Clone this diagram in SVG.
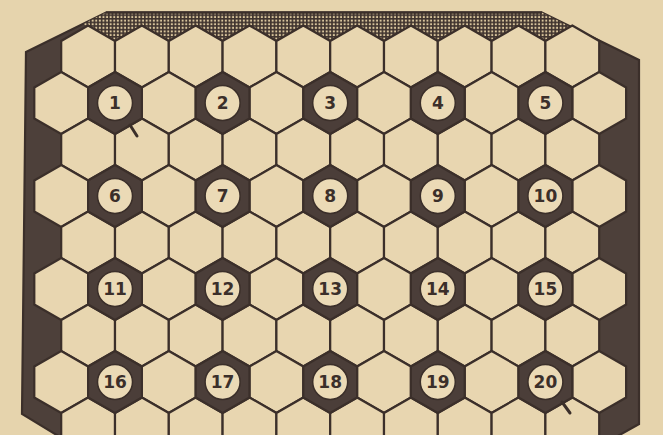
<svg xmlns="http://www.w3.org/2000/svg" xmlns:xlink="http://www.w3.org/1999/xlink" width="663" height="435" viewBox="0 0 663 435">
<style>
.cell{fill:#e8d6b0;stroke:#3b2f2a;stroke-width:2.2}
.dk{fill:#4b3e39;stroke:#3b2f2a;stroke-width:2.2}
.ring{fill:#ebdab6;stroke:#3b2f2a;stroke-width:1.5}
.num{font-family:"DejaVu Sans","Liberation Sans",sans-serif;font-size:17px;font-weight:bold;fill:#3b2f2a;text-anchor:middle}
.tick{stroke:#3b2f2a;stroke-width:3;stroke-linecap:round}
</style>
<defs>
<polygon id="hex" points="0,-31 26.9,-15.5 26.9,15.5 0,31 -26.9,15.5 -26.9,-15.5"/>
<pattern id="hatch" width="3.6" height="3.6" patternUnits="userSpaceOnUse">
<rect width="3.6" height="3.6" fill="#d8c49c"/>
<path d="M0 0.8H3.6M0.8 0V3.6" stroke="#3f332e" stroke-width="1.7"/>
</pattern>
<g id="rowE">
<use xlink:href="#hex" x="88.1" class="cell"/><use xlink:href="#hex" x="141.9" class="cell"/><use xlink:href="#hex" x="195.7" class="cell"/><use xlink:href="#hex" x="249.5" class="cell"/><use xlink:href="#hex" x="303.3" class="cell"/><use xlink:href="#hex" x="357.1" class="cell"/><use xlink:href="#hex" x="410.9" class="cell"/><use xlink:href="#hex" x="464.7" class="cell"/><use xlink:href="#hex" x="518.5" class="cell"/><use xlink:href="#hex" x="572.3" class="cell"/>
</g>
<g id="rowO">
<use xlink:href="#hex" x="61.2" class="cell"/><use xlink:href="#hex" x="168.8" class="cell"/><use xlink:href="#hex" x="276.4" class="cell"/><use xlink:href="#hex" x="384" class="cell"/><use xlink:href="#hex" x="491.6" class="cell"/><use xlink:href="#hex" x="599.2" class="cell"/>
</g>
</defs>
<rect width="663" height="435" fill="#e6d4ad"/>
<g id="board">
<polygon points="26,52 106,12.5 542,12.5 639,60 639,424 616,437 60,437 22,414" fill="#4d403a" stroke="#3b2f2a" stroke-width="2.2"/>
<polygon points="84,23.5 106,12.5 542,12.5 574,28.5 574,45 84,45" fill="url(#hatch)"/>
<line x1="106" y1="12.5" x2="542" y2="12.5" stroke="#3b2f2a" stroke-width="2.5"/>
</g>
<g id="cells">
<use xlink:href="#rowE" y="56.5"/>
<use xlink:href="#rowO" y="103"/>
<use xlink:href="#rowE" y="149.5"/>
<use xlink:href="#rowO" y="196"/>
<use xlink:href="#rowE" y="242.5"/>
<use xlink:href="#rowO" y="289"/>
<use xlink:href="#rowE" y="335.5"/>
<use xlink:href="#rowO" y="382"/>
<use xlink:href="#rowE" y="428.5"/>
</g>
<g id="cell-1"><use xlink:href="#hex" x="115" y="103" class="dk"/><circle cx="115" cy="103" r="17.5" class="ring"/><text x="115" y="109" class="num">1</text></g>
<g id="cell-2"><use xlink:href="#hex" x="222.6" y="103" class="dk"/><circle cx="222.6" cy="103" r="17.5" class="ring"/><text x="222.6" y="109" class="num">2</text></g>
<g id="cell-3"><use xlink:href="#hex" x="330.2" y="103" class="dk"/><circle cx="330.2" cy="103" r="17.5" class="ring"/><text x="330.2" y="109" class="num">3</text></g>
<g id="cell-4"><use xlink:href="#hex" x="437.8" y="103" class="dk"/><circle cx="437.8" cy="103" r="17.5" class="ring"/><text x="437.8" y="109" class="num">4</text></g>
<g id="cell-5"><use xlink:href="#hex" x="545.4" y="103" class="dk"/><circle cx="545.4" cy="103" r="17.5" class="ring"/><text x="545.4" y="109" class="num">5</text></g>
<g id="cell-6"><use xlink:href="#hex" x="115" y="196" class="dk"/><circle cx="115" cy="196" r="17.5" class="ring"/><text x="115" y="202" class="num">6</text></g>
<g id="cell-7"><use xlink:href="#hex" x="222.6" y="196" class="dk"/><circle cx="222.6" cy="196" r="17.5" class="ring"/><text x="222.6" y="202" class="num">7</text></g>
<g id="cell-8"><use xlink:href="#hex" x="330.2" y="196" class="dk"/><circle cx="330.2" cy="196" r="17.5" class="ring"/><text x="330.2" y="202" class="num">8</text></g>
<g id="cell-9"><use xlink:href="#hex" x="437.8" y="196" class="dk"/><circle cx="437.8" cy="196" r="17.5" class="ring"/><text x="437.8" y="202" class="num">9</text></g>
<g id="cell-10"><use xlink:href="#hex" x="545.4" y="196" class="dk"/><circle cx="545.4" cy="196" r="17.5" class="ring"/><text x="545.4" y="202" class="num">10</text></g>
<g id="cell-11"><use xlink:href="#hex" x="115" y="289" class="dk"/><circle cx="115" cy="289" r="17.5" class="ring"/><text x="115" y="295" class="num">11</text></g>
<g id="cell-12"><use xlink:href="#hex" x="222.6" y="289" class="dk"/><circle cx="222.6" cy="289" r="17.5" class="ring"/><text x="222.6" y="295" class="num">12</text></g>
<g id="cell-13"><use xlink:href="#hex" x="330.2" y="289" class="dk"/><circle cx="330.2" cy="289" r="17.5" class="ring"/><text x="330.2" y="295" class="num">13</text></g>
<g id="cell-14"><use xlink:href="#hex" x="437.8" y="289" class="dk"/><circle cx="437.8" cy="289" r="17.5" class="ring"/><text x="437.8" y="295" class="num">14</text></g>
<g id="cell-15"><use xlink:href="#hex" x="545.4" y="289" class="dk"/><circle cx="545.4" cy="289" r="17.5" class="ring"/><text x="545.4" y="295" class="num">15</text></g>
<g id="cell-16"><use xlink:href="#hex" x="115" y="382" class="dk"/><circle cx="115" cy="382" r="17.5" class="ring"/><text x="115" y="388" class="num">16</text></g>
<g id="cell-17"><use xlink:href="#hex" x="222.6" y="382" class="dk"/><circle cx="222.6" cy="382" r="17.5" class="ring"/><text x="222.6" y="388" class="num">17</text></g>
<g id="cell-18"><use xlink:href="#hex" x="330.2" y="382" class="dk"/><circle cx="330.2" cy="382" r="17.5" class="ring"/><text x="330.2" y="388" class="num">18</text></g>
<g id="cell-19"><use xlink:href="#hex" x="437.8" y="382" class="dk"/><circle cx="437.8" cy="382" r="17.5" class="ring"/><text x="437.8" y="388" class="num">19</text></g>
<g id="cell-20"><use xlink:href="#hex" x="545.4" y="382" class="dk"/><circle cx="545.4" cy="382" r="17.5" class="ring"/><text x="545.4" y="388" class="num">20</text></g>
<g id="connectors">
<line x1="130" y1="125" x2="137" y2="136" class="tick"/>
<line x1="562" y1="402" x2="570" y2="413" class="tick"/>
</g>
</svg>
